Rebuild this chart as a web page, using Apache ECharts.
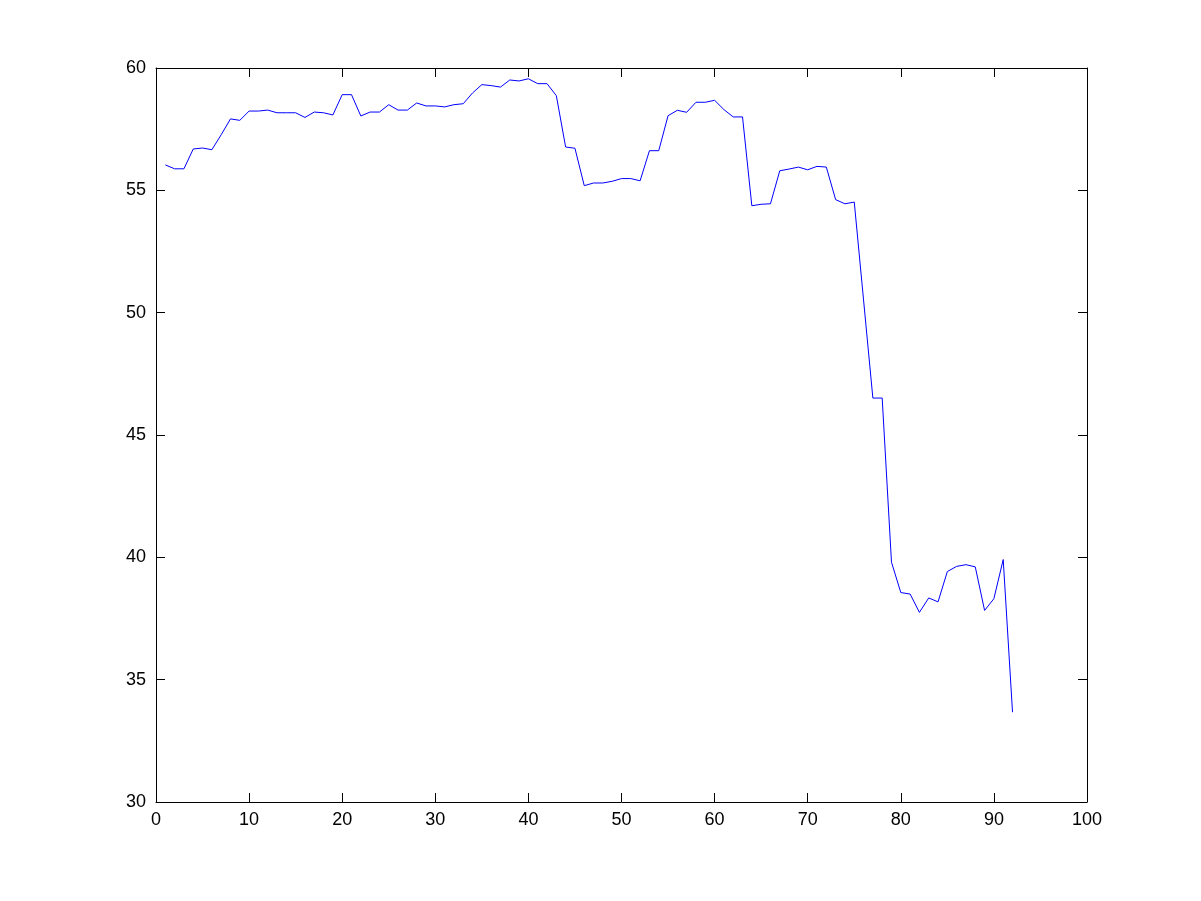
<!DOCTYPE html>
<html>
<head>
<meta charset="utf-8">
<script src="https://cdn.jsdelivr.net/npm/echarts@6/dist/echarts.min.js"></script>
<style>
html,body{margin:0;padding:0;background:#fff;}
#chart{width:1201px;height:901px;}
</style>
</head>
<body>
<div id="chart"></div>
<script>
var xValues = [];
for (var i = 1; i <= 92; i++) xValues.push(i);
var yValues = [
  56.04, 55.88, 55.88, 56.69, 56.73, 56.66, 57.27, 57.92, 57.86, 58.24,
  58.24, 58.28, 58.17, 58.17, 58.17, 57.98, 58.20, 58.17, 58.08, 58.91,
  58.91, 58.04, 58.20, 58.20, 58.50, 58.28, 58.28, 58.57, 58.45, 58.45,
  58.41, 58.50, 58.54, 58.98, 59.32, 59.28, 59.22, 59.51, 59.47, 59.56,
  59.36, 59.36, 58.87, 56.77, 56.72, 55.19, 55.30, 55.30, 55.37, 55.48,
  55.48, 55.39, 56.62, 56.62, 58.05, 58.27, 58.19, 58.60, 58.60, 58.68,
  58.30, 58.00, 58.00, 54.37, 54.43, 54.45, 55.80, 55.87, 55.95, 55.84,
  55.98, 55.95, 54.62, 54.45, 54.52, 50.52, 46.51, 46.51, 39.80, 38.56,
  38.50, 37.75, 38.34, 38.18, 39.42, 39.63, 39.70, 39.61, 37.83, 38.31,
  39.91, 33.67
];
var xTicks = {min: 0, max: 100, interval: 10};
var yTicks = {min: 30, max: 60, interval: 5};

var data = xValues.map(function (x, i) { return [x, yValues[i]]; });
var font = 'Liberation Sans, Arial, Helvetica, sans-serif';
var lineStyle = {color: '#000', width: 1};
var tickStyle = {show: true, inside: true, length: 9, lineStyle: {color: '#000', width: 1}};

var chart = echarts.init(document.getElementById('chart'), null, {renderer: 'canvas'});
chart.setOption({
  backgroundColor: '#fff',
  animation: false,
  grid: {left: 156, right: 114, top: 68, bottom: 99, containLabel: false},
  xAxis: [{
    type: 'value', min: xTicks.min, max: xTicks.max, interval: xTicks.interval,
    position: 'bottom',
    axisLine: {show: true, onZero: false, lineStyle: lineStyle},
    axisTick: tickStyle,
    splitLine: {show: false},
    axisLabel: {color: '#000', fontSize: 18, fontFamily: font, margin: 9}
  }, {
    type: 'value', min: xTicks.min, max: xTicks.max, interval: xTicks.interval,
    position: 'top',
    axisLine: {show: true, onZero: false, lineStyle: lineStyle},
    axisTick: tickStyle,
    splitLine: {show: false},
    axisLabel: {show: false}
  }],
  yAxis: [{
    type: 'value', min: yTicks.min, max: yTicks.max, interval: yTicks.interval,
    position: 'left',
    axisLine: {show: true, onZero: false, lineStyle: lineStyle},
    axisTick: tickStyle,
    splitLine: {show: false},
    axisLabel: {color: '#000', fontSize: 18, fontFamily: font, margin: 10}
  }, {
    type: 'value', min: yTicks.min, max: yTicks.max, interval: yTicks.interval,
    position: 'right',
    axisLine: {show: true, onZero: false, lineStyle: lineStyle},
    axisTick: tickStyle,
    splitLine: {show: false},
    axisLabel: {show: false}
  }],
  series: [{
    type: 'line',
    xAxisIndex: 0, yAxisIndex: 0,
    data: data,
    showSymbol: false,
    symbol: 'none',
    lineStyle: {color: '#0000ff', width: 1},
    itemStyle: {color: '#0000ff'}
  }]
});
</script>
</body>
</html>
